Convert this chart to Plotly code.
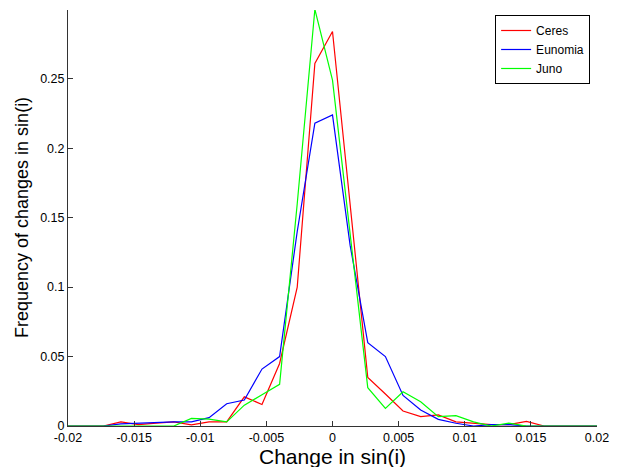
import plotly.graph_objects as go

# bin centres: 31 bins of width 0.04/30 from -0.02 to 0.02
bin_width = 0.04 / 30
change_sin_i = [round(k * bin_width, 6) for k in range(-15, 16)]

ceres = [0, 0, 0, 0.003, 0.001, 0.002, 0.003, 0.0008, 0.003, 0.003,
         0.021, 0.0155, 0.045, 0.100, 0.261, 0.284, 0.160, 0.035, 0.023,
         0.0108, 0.0067, 0.008, 0.003, 0.002, 0.001, 0.001, 0.0033, 0, 0, 0, 0]
eunomia = [0, 0, 0, 0.0015, 0.002, 0.003, 0.003, 0.003, 0.006, 0.016,
           0.0187, 0.041, 0.050, 0.140, 0.218, 0.224, 0.130, 0.060, 0.050,
           0.022, 0.0115, 0.0048, 0.002, 0, 0.001, 0.001, 0, 0, 0, 0, 0]
juno = [0, 0, 0, 0, 0, 0, 0, 0.0055, 0.005, 0.003,
        0.015, 0.0225, 0.030, 0.160, 0.300, 0.249, 0.140, 0.0276, 0.0127,
        0.0247, 0.0175, 0.0067, 0.0074, 0.003, 0, 0.002, 0, 0, 0, 0, 0]

series = [("Ceres", ceres, "#ff0000"),
          ("Eunomia", eunomia, "#0000ff"),
          ("Juno", juno, "#00ff00")]

x_ticks = [-0.02, -0.015, -0.01, -0.005, 0, 0.005, 0.01, 0.015, 0.02]
x_labels = ["-0.02", "-0.015", "-0.01", "-0.005", "0",
            "0.005", "0.01", "0.015", "0.02"]
y_ticks = [0, 0.05, 0.1, 0.15, 0.2, 0.25]
y_labels = ["0", "0.05", "0.1", "0.15", "0.2", "0.25"]

fig = go.Figure()
for name, vals, col in series:
    fig.add_trace(go.Scatter(x=change_sin_i, y=vals, mode="lines", name=name,
                             line=dict(color=col, width=1.2)))

axis_font = dict(family="Liberation Sans, Arial, sans-serif", size=12.5, color="#000")
# page has an 8px body margin, so the figure is sized 8px short on each side
fig.update_layout(
    width=616, height=459,
    margin=dict(l=60, r=27, t=2, b=41),
    paper_bgcolor="white", plot_bgcolor="white",
    font=dict(family="Liberation Sans, Arial, sans-serif", color="#000"),
    xaxis=dict(range=[-0.02, 0.02], tickvals=x_ticks, ticktext=x_labels,
               ticks="inside", ticklen=5, tickcolor="#333", showgrid=False,
               zeroline=False, showline=True, linecolor="#333", linewidth=1,
               tickfont=axis_font, automargin=False),
    yaxis=dict(range=[0, 0.2995], tickvals=y_ticks, ticktext=y_labels,
               ticks="inside", ticklen=5, tickcolor="#333", showgrid=False,
               zeroline=False, showline=True, linecolor="#333", linewidth=1,
               tickfont=axis_font, automargin=False),
    legend=dict(x=0.987, y=0.988, xanchor="right", yanchor="top",
                bordercolor="#000", borderwidth=1, bgcolor="white",
                font=dict(size=12), tracegroupgap=0, itemwidth=30),
    showlegend=True,
)
fig.add_annotation(text="Change in sin(i)", xref="paper", yref="paper",
                   x=0.5, y=0, yshift=-30, showarrow=False,
                   xanchor="center", yanchor="middle", font=dict(size=21))
fig.add_annotation(text="Frequency of changes in sin(i)", xref="paper", yref="paper",
                   x=0, y=0.5, xshift=-46, showarrow=False, textangle=-90,
                   xanchor="center", yanchor="middle", font=dict(size=18))

fig.write_html("out.html")
